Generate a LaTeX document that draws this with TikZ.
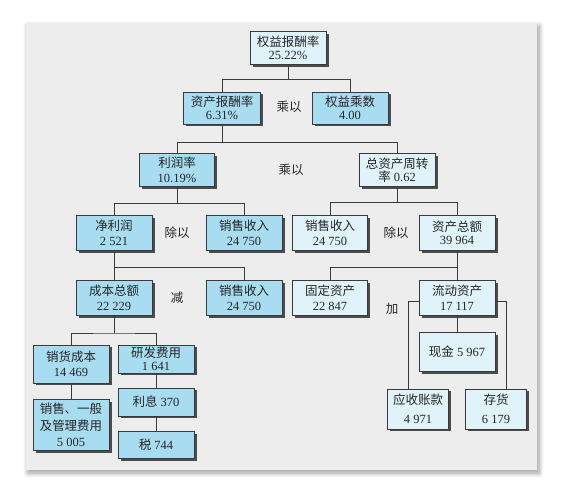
\documentclass[tikz,border=0pt]{standalone}
\usepackage{fontspec}
\setmainfont{Liberation Serif}
\newfontfamily\cjk{Noto Sans CJK SC}
\usepackage{xcolor}
\usepackage{tikz}
\usetikzlibrary{shadows,shadows.blur}
\definecolor{panelgray}{HTML}{EDEDED}
\definecolor{darkblue}{HTML}{A8DCF0}
\definecolor{paleblue}{HTML}{E0F3FB}
\definecolor{edgegray}{HTML}{3A3A3A}

\begin{document}
\begin{tikzpicture}[x=1pt,y=-1pt,font=\fontsize{12.5}{15}\selectfont,text=black!85,
    box/.style={draw=edgegray,line width=.6pt,minimum width=76pt,minimum height=34pt,
      inner sep=1pt,align=center,
      drop shadow={shadow xshift=2.5pt,shadow yshift=-2.5pt,fill=black!70,opacity=1}},
    dark/.style={box,fill=darkblue},
    pale/.style={box,fill=paleblue},
    tight/.style={font=\fontsize{12.5}{13}\selectfont},
    link/.style={draw=edgegray,line width=.8pt}]
      \useasboundingbox (0,0) rectangle (566,494);
      \fill[panelgray,blur shadow={shadow blur steps=10,shadow xshift=2pt,shadow yshift=-3pt,shadow blur radius=5pt}]
        (26,23) rectangle (537,470);
      % level 1 and 2
      \node[pale,tight,minimum height=33pt] (roe) at (288,48) {{\cjk 权益报酬率}\\25.22\%};
      \node[dark,tight,minimum width=77pt,minimum height=32pt] (roa) at (222,108) {{\cjk 资产报酬率}\\6.31\%};
      \node[dark,tight,minimum height=32pt] (em) at (350,108) {{\cjk 权益乘数}\\4.00};
      \node (op1) at (289,107) {\cjk 乘以};
      % level 3
      \node[dark,minimum width=75pt,minimum height=33pt] (pm) at (177,170) {{\cjk 利润率}\\10.19\%};
      \node[pale,tight,minimum height=33pt] (tat) at (397,170) {{\cjk 总资产周转}\\{\cjk 率} 0.62};
      \node (op2) at (291,170) {\cjk 乘以};
      % level 4
      \node[dark,minimum height=35pt] (ni) at (114,233) {{\cjk 净利润}\\2 521};
      \node[dark,minimum height=35pt] (salesA) at (244,233) {{\cjk 销售收入}\\24 750};
      \node[pale,minimum width=75pt,minimum height=35pt] (salesB) at (330,233) {{\cjk 销售收入}\\24 750};
      \node[pale,tight,minimum height=35pt] (ta) at (457,233) {{\cjk 资产总额}\\39 964};
      \node (op3) at (177,233) {\cjk 除以};
      \node (op4) at (396,233) {\cjk 除以};
      % level 5
      \node[dark,minimum height=35pt] (tc) at (114,298) {{\cjk 成本总额}\\22 229};
      \node[dark,minimum height=35pt] (salesC) at (244,298) {{\cjk 销售收入}\\24 750};
      \node[pale,minimum width=75pt,minimum height=35pt] (fa) at (330,298) {{\cjk 固定资产}\\22 847};
      \node[pale,minimum height=35pt] (ca) at (457,298) {{\cjk 流动资产}\\17 117};
      \node (op5) at (177,298) {\cjk 减};
      \node (op6) at (392,309) {\cjk 加};
      % level 6
      \node[dark,minimum height=38pt] (cogs) at (71,364) {{\cjk 销货成本}\\14 469};
      \node[dark,tight,minimum height=28pt] (rd) at (156,359) {{\cjk 研发费用}\\1 641};
      \node[dark,minimum height=28pt] (intr) at (156,402) {{\cjk 利息} 370};
      \node[dark,minimum height=27pt] (tax) at (156,445) {{\cjk 税} 744};
      \node[dark,minimum height=51pt,font=\fontsize{12.5}{16.5}\selectfont] (sga) at (71,425)
        {{\cjk 销售、一般}\\{\cjk 及管理费用}\\5 005};
      \node[pale,minimum height=39pt] (cash) at (457,352) {{\cjk 现金} 5 967};
      \node[pale,minimum width=61pt,minimum height=40pt,font=\fontsize{12.5}{19}\selectfont] (ar) at (418,409) {{\cjk 应收账款}\\4 971};
      \node[pale,minimum width=61pt,minimum height=40pt,font=\fontsize{12.5}{19}\selectfont] (inv) at (496,409) {{\cjk 存货}\\6 179};
      % connectors
      \coordinate (j1) at (288,79);
      \coordinate (j2) at (222,142);
      \coordinate (j3) at (177,203);
      \coordinate (j4) at (397,202);
      \coordinate (j5) at (114,267);
      \coordinate (j6) at (457,267);
      \coordinate (j7) at (114,333);
      \draw[link] (roe.south) -- (j1) -| (roa.north);
      \draw[link] (j1) -| (em.north);
      \draw[link] (roa.south) -- (j2) -| (pm.north);
      \draw[link] (j2) -| (tat.north);
      \draw[link] (pm.south) -- (j3) -| (ni.north);
      \draw[link] (j3) -| (salesA.north);
      \draw[link] (tat.south) -- (j4) -| (salesB.north);
      \draw[link] (j4) -| (ta.north);
      \draw[link] (ni.south) -- (tc.north);
      \draw[link] (j5) -| (salesC.north);
      \draw[link] (ta.south) -- (ca.north);
      \draw[link] (j6) -| (fa.north);
      \draw[link] (tc.south) -- (j7);
      \draw[link] (cogs.north) |- (j7) -| (rd.north);
      \draw[link] (cogs) -- (sga);
      \draw[link] (rd) -- (intr);
      \draw[link] (intr) -- (tax);
      \draw[link] (ca) -- (cash);
      \draw[link] ([yshift=-3pt]ca.west) -| ([xshift=-10pt]ar.north);
      \draw[link] ([yshift=-3pt]ca.east) -| ([xshift=10pt]inv.north);
    \end{tikzpicture}
\end{document}
